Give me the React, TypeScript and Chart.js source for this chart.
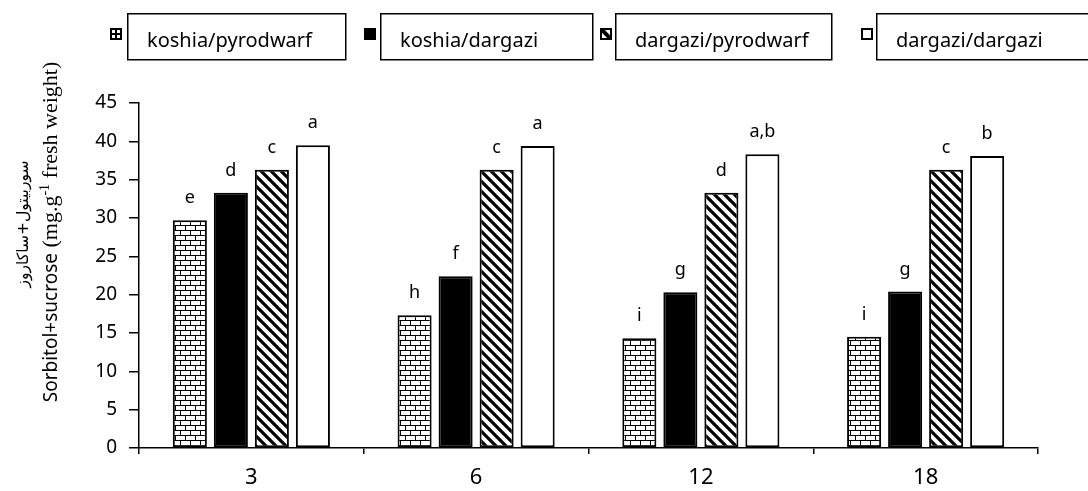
import { useEffect, useRef } from "react";
import { Chart, registerables } from "chart.js";

Chart.register(...registerables);

// ---- data ----
const categories = ["3", "6", "12", "18"];
const seriesNames = ["koshia/pyrodwarf", "koshia/dargazi", "dargazi/pyrodwarf", "dargazi/dargazi"];
const koshiaPyrodwarf = [29.7, 17.3, 14.3, 14.5];
const koshiaDargazi = [33.3, 22.4, 20.3, 20.4];
const dargaziPyrodwarf = [36.3, 36.3, 33.3, 36.3];
const dargaziDargazi = [39.5, 39.4, 38.3, 38.1];
const lettersKoshiaPyrodwarf = ["e", "h", "i", "i"];
const lettersKoshiaDargazi = ["d", "f", "g", "g"];
const lettersDargaziPyrodwarf = ["c", "c", "d", "c"];
const lettersDargaziDargazi = ["a", "a", "a,b", "b"];
const yMin = 0;
const yMax = 45;
const yStep = 5;
const yTitleFa = "سوربیتول+ساکاروز";
const yTitleEnMain = "Sorbitol+sucrose";
const yTitleEnUnit = " (mg.g";
const yTitleEnSup = "-1";
const yTitleEnRest = " fresh weight)";

// ---- layout (not data) ----
const legendLayout = [
  { icon: 110, box: 127, w: 218 },
  { icon: 364, box: 380, w: 212 },
  { icon: 600, box: 615, w: 216 },
  { icon: 861, box: 876, w: 240 },
];

function makeBrick(ctx: CanvasRenderingContext2D) {
  const c = document.createElement("canvas");
  c.width = 10;
  c.height = 10;
  const g = c.getContext("2d")!;
  g.fillStyle = "#fff";
  g.fillRect(0, 0, 10, 10);
  g.fillStyle = "#000";
  g.fillRect(0, 0, 10, 1);
  g.fillRect(0, 5, 10, 1);
  g.fillRect(0, 0, 1, 5);
  g.fillRect(5, 5, 1, 5);
  return ctx.createPattern(c, "repeat")!;
}

function makeHatch(ctx: CanvasRenderingContext2D) {
  const s = 10;
  const c = document.createElement("canvas");
  c.width = s;
  c.height = s;
  const g = c.getContext("2d")!;
  g.fillStyle = "#fff";
  g.fillRect(0, 0, s, s);
  g.strokeStyle = "#000";
  g.lineWidth = 3.2;
  g.beginPath();
  for (let k = -1; k <= 1; k++) {
    g.moveTo(k * s - 1, -1);
    g.lineTo(k * s + s + 1, s + 1);
  }
  g.stroke();
  return ctx.createPattern(c, "repeat")!;
}

export default function App() {
  const ref = useRef<HTMLCanvasElement>(null);

  useEffect(() => {
    document.body.style.margin = "0";
    const canvas = ref.current!;
    const ctx = canvas.getContext("2d")!;
    const brick = makeBrick(ctx);
    const hatch = makeHatch(ctx);
    const letterSets = [lettersKoshiaPyrodwarf, lettersKoshiaDargazi, lettersDargaziPyrodwarf, lettersDargaziDargazi];

    const labelPlugin = {
      id: "barLetters",
      afterDatasetsDraw(chart: any) {
        const c = chart.ctx;
        c.save();
        c.font = "18px 'Noto Sans'";
        c.fillStyle = "#000";
        c.textAlign = "center";
        c.textBaseline = "alphabetic";
        chart.data.datasets.forEach((_: any, di: number) => {
          const meta = chart.getDatasetMeta(di);
          meta.data.forEach((el: any, i: number) => {
            c.fillText(letterSets[di][i], el.x, el.y - 17);
          });
        });
        c.restore();
      },
    };

    const drawIcon = (c: CanvasRenderingContext2D, idx: number, x: number, y: number) => {
      const s = 12;
      c.save();
      c.fillStyle = "#fff";
      c.fillRect(x, y, s, s);
      c.strokeStyle = "#000";
      c.fillStyle = "#000";
      if (idx === 0) {
        c.lineWidth = 2;
        c.strokeRect(x + 1, y + 1, s - 2, s - 2);
        c.fillRect(x + 1, y + 5, s - 2, 2);
        c.fillRect(x + 5, y + 1, 2, 5);
        c.fillRect(x + 5, y + 6, 2, 5);
      } else if (idx === 1) {
        c.fillRect(x, y, s, s);
      } else if (idx === 2) {
        c.beginPath();
        c.rect(x, y, s, s);
        c.clip();
        c.lineWidth = 4;
        c.beginPath();
        c.moveTo(x, y);
        c.lineTo(x + s, y + s);
        c.stroke();
        c.lineWidth = 2;
        c.strokeRect(x + 1, y + 1, s - 2, s - 2);
      } else {
        c.lineWidth = 2;
        c.strokeRect(x + 1, y + 1, s - 2, s - 2);
      }
      c.restore();
    };

    const legendPlugin = {
      id: "boxedLegend",
      afterDraw(chart: any) {
        const c = chart.ctx as CanvasRenderingContext2D;
        c.save();
        legendLayout.forEach((l, i) => {
          drawIcon(c, i, l.icon, 28);
          c.strokeStyle = "#000";
          c.lineWidth = 1.5;
          c.strokeRect(l.box + 0.75, 13.75, l.w, 46);
          c.fillStyle = "#000";
          c.font = "20px 'Noto Sans'";
          c.textAlign = "left";
          c.textBaseline = "alphabetic";
          c.fillText(seriesNames[i], l.box + 20, 47);
        });
        c.restore();
      },
    };

    const titlePlugin = {
      id: "yTitle",
      afterDraw(chart: any) {
        const c = chart.ctx as CanvasRenderingContext2D;
        c.save();
        c.fillStyle = "#000";
        const fMain = "19px 'Noto Sans'";
        const fSerif = "22px 'Liberation Serif'";
        const fSup = "14px 'Liberation Serif'";
        c.font = fMain;
        const w1 = c.measureText(yTitleEnMain).width;
        c.font = fSerif;
        const w2 = c.measureText(yTitleEnUnit).width;
        const w4 = c.measureText(yTitleEnRest).width;
        c.font = fSup;
        const w3 = c.measureText(yTitleEnSup).width;
        const total = w1 + w2 + w3 + w4;
        c.save();
        c.translate(57, 232);
        c.rotate(-Math.PI / 2);
        c.textAlign = "left";
        c.textBaseline = "alphabetic";
        let x = -total / 2;
        c.font = fMain;
        c.fillText(yTitleEnMain, x, 0);
        x += w1;
        c.font = fSerif;
        c.fillText(yTitleEnUnit, x, 0);
        x += w2;
        c.font = fSup;
        c.fillText(yTitleEnSup, x, -8);
        x += w3;
        c.font = fSerif;
        c.fillText(yTitleEnRest, x, 0);
        c.restore();
        c.save();
        c.font = "16px 'DejaVu Sans'";
        const wf = c.measureText(yTitleFa).width;
        const size = Math.max(10, Math.min(24, (16 * 127) / (wf || 127)));
        c.font = `${size}px 'DejaVu Sans'`;
        c.translate(28, 224);
        c.rotate(-Math.PI / 2);
        c.textAlign = "center";
        c.textBaseline = "alphabetic";
        (c as any).direction = "rtl";
        c.fillText(yTitleFa, 0, 0);
        c.restore();
        c.restore();
      },
    };

    const common = {
      borderColor: "#000",
      borderWidth: 2,
      borderSkipped: false as const,
      categoryPercentage: 0.73,
      barPercentage: 0.83,
    };

    const chart = new Chart(canvas, {
      type: "bar",
      data: {
        labels: categories,
        datasets: [
          { label: seriesNames[0], data: koshiaPyrodwarf, backgroundColor: brick, ...common },
          { label: seriesNames[1], data: koshiaDargazi, backgroundColor: "#000", ...common },
          { label: seriesNames[2], data: dargaziPyrodwarf, backgroundColor: hatch, ...common },
          { label: seriesNames[3], data: dargaziDargazi, backgroundColor: "#fff", ...common },
        ],
      },
      options: {
        responsive: false,
        animation: false,
        devicePixelRatio: 1,
        layout: { padding: { top: 103, right: 50, left: 0, bottom: 0 } },
        plugins: {
          legend: { display: false },
          tooltip: { enabled: false },
          title: { display: false },
        },
        scales: {
          x: {
            type: "category",
            offset: true,
            grid: {
              offset: true,
              drawOnChartArea: false,
              drawTicks: true,
              tickLength: 6,
              color: "#000",
              lineWidth: 1.5,
            },
            border: { display: true, color: "#000", width: 1.5 },
            ticks: {
              color: "#000",
              font: { family: "'Noto Sans'", size: 22 },
              padding: 11,
              maxRotation: 0,
            },
            afterFit(scale: any) {
              scale.height = 43;
            },
          },
          y: {
            min: yMin,
            max: yMax,
            ticks: {
              stepSize: yStep,
              color: "#000",
              font: { family: "'Noto Sans'", size: 19 },
              padding: 12,
            },
            grid: {
              drawOnChartArea: false,
              drawTicks: true,
              tickLength: 10,
              color: "#000",
              lineWidth: 1.5,
            },
            border: { display: true, color: "#000", width: 1.5 },
            afterFit(scale: any) {
              scale.width = 139;
            },
          },
        },
      },
      plugins: [labelPlugin, legendPlugin, titlePlugin],
    });

    return () => chart.destroy();
  }, []);

  return (
    <div style={{ width: 1088, height: 491, background: "#fff" }}>
      <canvas ref={ref} width={1088} height={491} style={{ display: "block" }} />
    </div>
  );
}
